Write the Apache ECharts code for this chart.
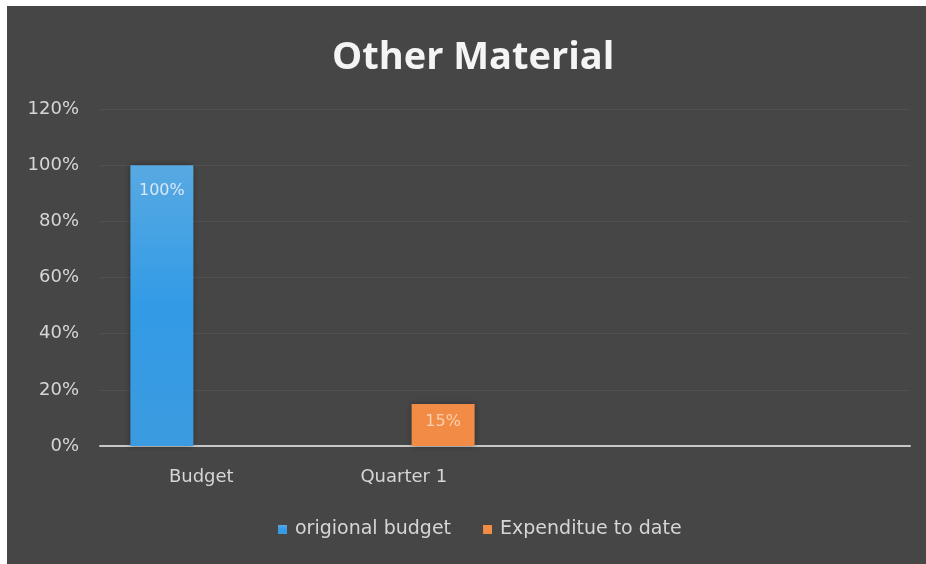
<!DOCTYPE html>
<html>
<head>
<meta charset="utf-8">
<script src="https://cdn.jsdelivr.net/npm/echarts@6/dist/echarts.min.js"></script>
<style>
  html, body { margin: 0; padding: 0; background: #ffffff; }
  #chart { position: absolute; left: 7px; top: 6px; width: 919px; height: 558px; }
</style>
</head>
<body>
<div id="chart"></div>
<script>
// Category labels along the x axis (two trailing slots are left blank)
const categories = ['Budget', 'Quarter 1', '', ''];
// Values in percent
const origionalBudget = [100, null, null, null];
const expenditureToDate = [null, 15, null, null];
// Y axis range (percent)
const yMin = 0, yMax = 120, yStep = 20;

const chart = echarts.init(document.getElementById('chart'));
const titleFont = '"Open Sans", "Noto Sans", sans-serif';
const bodyFont = '"DejaVu Sans", "Noto Sans", sans-serif';

chart.setOption({
  backgroundColor: '#464646',
  title: {
    text: 'Other Material',
    left: 320,
    top: 28,
    textStyle: { color: '#f4f4f4', fontSize: 38, fontWeight: 'bold', fontFamily: titleFont }
  },
  legend: {
    bottom: 20,
    left: 266,
    itemWidth: 9,
    itemHeight: 9,
    itemGap: 32,
    icon: 'rect',
    textStyle: { color: '#d6d6d6', fontSize: 19, fontFamily: bodyFont, padding: [0, 0, 0, 3] },
    data: ['origional budget', 'Expenditue to date']
  },
  grid: { left: 93, right: 16, top: 103, bottom: 118, containLabel: false },
  xAxis: {
    type: 'category',
    data: categories,
    axisLine: { lineStyle: { color: '#c8c8c8', width: 2 } },
    axisTick: { show: false },
    axisLabel: { color: '#d6d6d6', fontSize: 18, margin: 22, fontFamily: bodyFont }
  },
  yAxis: {
    type: 'value',
    min: yMin,
    max: yMax,
    interval: yStep,
    axisLine: { show: false },
    axisTick: { show: false },
    splitLine: { lineStyle: { color: 'rgba(255,255,255,0.06)' } },
    axisLabel: {
      color: '#d6d6d6', fontSize: 18, margin: 21, fontFamily: bodyFont,
      formatter: v => v + '%'
    }
  },
  series: [
    {
      name: 'origional budget',
      type: 'bar',
      data: origionalBudget,
      barWidth: 63,
      barGap: '25%',
      itemStyle: {
        color: new echarts.graphic.LinearGradient(0, 0, 0, 1, [
          { offset: 0, color: '#58a9e2' },
          { offset: 0.5, color: '#329be6' },
          { offset: 1, color: '#3c9be0' }
        ]),
        shadowColor: 'rgba(0,0,0,0.35)',
        shadowBlur: 6
      },
      label: {
        show: true, position: 'insideTop', distance: 18,
        color: '#d8e8f6', fontSize: 16, fontFamily: bodyFont,
        formatter: p => p.value + '%'
      }
    },
    {
      name: 'Expenditue to date',
      type: 'bar',
      data: expenditureToDate,
      barWidth: 63,
      barGap: '25%',
      itemStyle: {
        color: '#f28b46',
        shadowColor: 'rgba(0,0,0,0.35)',
        shadowBlur: 6
      },
      label: {
        show: true, position: 'insideTop', distance: 10,
        color: '#fbd0b0', fontSize: 16, fontFamily: bodyFont,
        formatter: p => p.value + '%'
      }
    }
  ]
});
</script>
</body>
</html>
